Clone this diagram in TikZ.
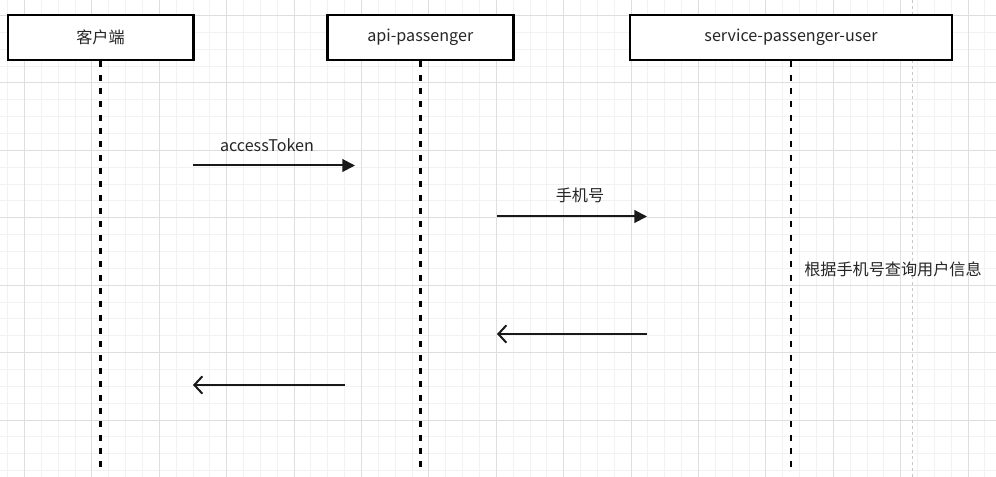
\documentclass[tikz,border=0pt]{standalone}
\usepackage{fontspec}
\setmainfont{Noto Sans CJK SC}
\usetikzlibrary{arrows.meta, positioning}
\definecolor{gridminor}{HTML}{F2F2F2}
\definecolor{gridmajor}{HTML}{DEDEDE}
\definecolor{pagebreak}{HTML}{C8C8C8}

\begin{document}
\begin{tikzpicture}[
        x=0.75pt, y=-0.75pt,
        font=\fontsize{12.1pt}{15pt}\selectfont,
        actor/.style={rectangle, draw=black, line width=1.8pt, fill=white, minimum height=33.75pt, text=black!85, inner sep=0pt},
        lifeline/.style={draw=black, line width=1.8pt, dash pattern=on 4.5pt off 5.5pt},
        msg/.style={draw=black!90, line width=1.5pt, -{Triangle[length=9.5pt, width=9.5pt]}},
        reply/.style={draw=black!90, line width=1.5pt, -{Straight Barb[length=6pt, width=13pt, line width=1.5pt]}},
        lbl/.style={text=black!85, inner sep=0pt},
        minorline/.style={draw=gridminor, line width=0.75pt},
        majorline/.style={draw=gridmajor, line width=0.75pt}
    ]
        % Hintergrund und Raster
        \useasboundingbox (0,0) rectangle (996,477);
        \fill[white] (0,0) rectangle (996,477);
        \foreach \i in {-1,...,58} {
            \draw[minorline] ({24.5+16.85*\i},0) -- ({24.5+16.85*\i},477);
        }
        \foreach \j in {0,...,27} {
            \draw[minorline] (0,{15.6+16.85*\j}) -- (996,{15.6+16.85*\j});
        }
        \foreach \i in {0,...,14} {
            \draw[majorline] ({24.5+67.4*\i},0) -- ({24.5+67.4*\i},477);
        }
        \foreach \j in {0,...,6} {
            \draw[majorline] (0,{15.6+67.4*\j}) -- (996,{15.6+67.4*\j});
        }
        \draw[pagebreak, line width=0.75pt, dash pattern=on 2.25pt off 2.25pt] (912.3,0) -- (912.3,477);

        % Teilnehmer
        \node[actor, minimum width=139.2pt] (client) at (100.5,37.5) {客户端};
        \node[actor, minimum width=139.5pt] (api) at (420.3,37.5) {api-passenger};
        \node[actor, minimum width=241.5pt] (user) at (791,37.5) {service-passenger-user};

        % Lebenslinien
        \coordinate (clientEnd) at (client.south |- 0,470);
        \coordinate (apiEnd) at (api.south |- 0,470);
        \coordinate (userEnd) at (user.south |- 0,470);
        \draw[lifeline] (client.south) -- (clientEnd);
        \draw[lifeline] (api.south) -- (apiEnd);
        \draw[lifeline] (user.south) -- (userEnd);

        % Nachrichten
        \coordinate (tokA) at (193,165.5);
        \coordinate (tokB) at (355,165.5);
        \draw[msg] (tokA) -- (tokB);
        \node[lbl] (tokLbl) at (267,145) {accessToken};

        \coordinate (telA) at (497,216.5);
        \coordinate (telB) at (647,216.5);
        \draw[msg] (telA) -- (telB);
        \node[lbl] (telLbl) at (580,195) {手机号};

        \node[lbl] (query) at (893,269) {根据手机号查询用户信息};

        \coordinate (retA) at (647,334);
        \coordinate (retB) at (497,334);
        \draw[reply] (retA) -- (retB);

        \coordinate (backA) at (345,385);
        \coordinate (backB) at (193,385);
        \draw[reply] (backA) -- (backB);

    \end{tikzpicture}
\end{document}
